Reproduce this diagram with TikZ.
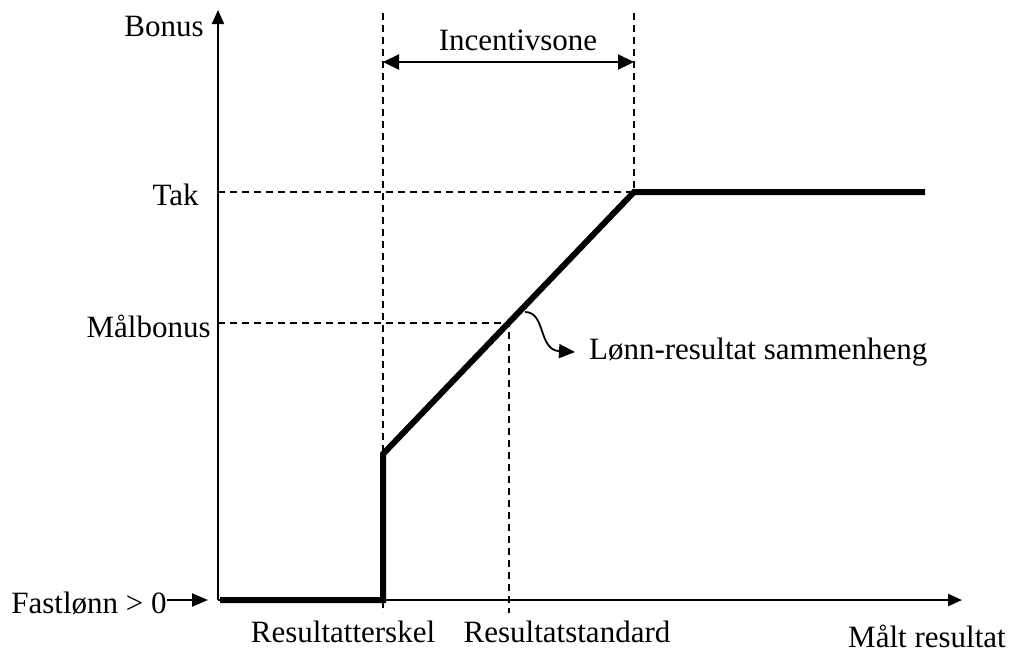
\documentclass[tikz,border=0pt]{standalone}
\usepackage{fontspec}
\setmainfont{Liberation Serif}
\usetikzlibrary{arrows.meta,positioning}

\begin{document}
\begin{tikzpicture}[x=0.5pt,y=-0.5pt,font=\fontsize{15.5}{18}\selectfont,
  axis/.style={line width=1.1pt,-{Triangle[length=7pt,width=6pt]}},
  guide/.style={line width=0.9pt,dash pattern=on 3.5pt off 2.5pt},
  bonusline/.style={line width=3pt,line join=miter},
  pointer/.style={line width=0.9pt,-{Triangle[length=8pt,width=7pt]}}]
  \useasboundingbox (0,0) rectangle (1016,654);
  % axes
  \coordinate (O) at (218,600);
  \coordinate (ytop) at (218,10);
  \coordinate (xend) at (962,600);
  \draw[axis] (O) -- (ytop);
  \draw[axis] (O) -- (xend);
  % pay-result curve
  \coordinate (start) at (220,600);
  \coordinate (thr) at (383,600);
  \coordinate (jump) at (383,454);
  \coordinate (std) at (509,323);
  \coordinate (cap) at (634,192);
  \coordinate (end) at (925,192);
  \draw[bonusline] (start) -- (thr) -- (jump) -- (cap) -- (end);
  % guide lines
  \coordinate (thrtop) at (383,13);
  \coordinate (thrbot) at (383,613);
  \coordinate (captop) at (634,13);
  \coordinate (stdbot) at (509,613);
  \draw[guide] (thrtop) -- (thrbot);
  \draw[guide] (captop) -- (cap) -- (O|-cap);
  \draw[guide] (O|-std) -- (std) -- (stdbot);
  % incentive zone
  \coordinate (zl) at (383,62);
  \coordinate (zr) at (634,62);
  \draw[line width=1.1pt,{Triangle[length=8pt,width=7.5pt]}-{Triangle[length=8pt,width=7.5pt]}] (zl) -- (zr);
  \node (zone) at (518,40) {Incentivsone};
  % labels
  \node (bonus) at (164,26) {Bonus};
  \node[anchor=east,inner sep=0pt] (tak) at (199,195) {Tak};
  \node[anchor=east,inner sep=0pt] (maal) at (211,326) {Målbonus};
  \node[anchor=east,inner sep=0pt] (fast) at (167,603) {Fastlønn > 0};
  \coordinate (fasttip) at (208,600);
  \draw[line width=1.1pt,-{Triangle[length=8pt,width=6.5pt]}] (fast.east|-fasttip) -- (fasttip);
  \node (lthr) at (343,632) {Resultatterskel};
  \node (lstd) at (567,632) {Resultatstandard};
  \node[inner sep=0pt] (lres) at (927,636) {Målt resultat};
  \node[anchor=west] (rel) at (582,352) {Lønn-resultat sammenheng};
  \coordinate (relfrom) at (525,312);
  \coordinate (relto) at (575,352);
  \draw[pointer] (relfrom) .. controls (546,312) and (538,350) .. (relto);
\end{tikzpicture}
\end{document}
